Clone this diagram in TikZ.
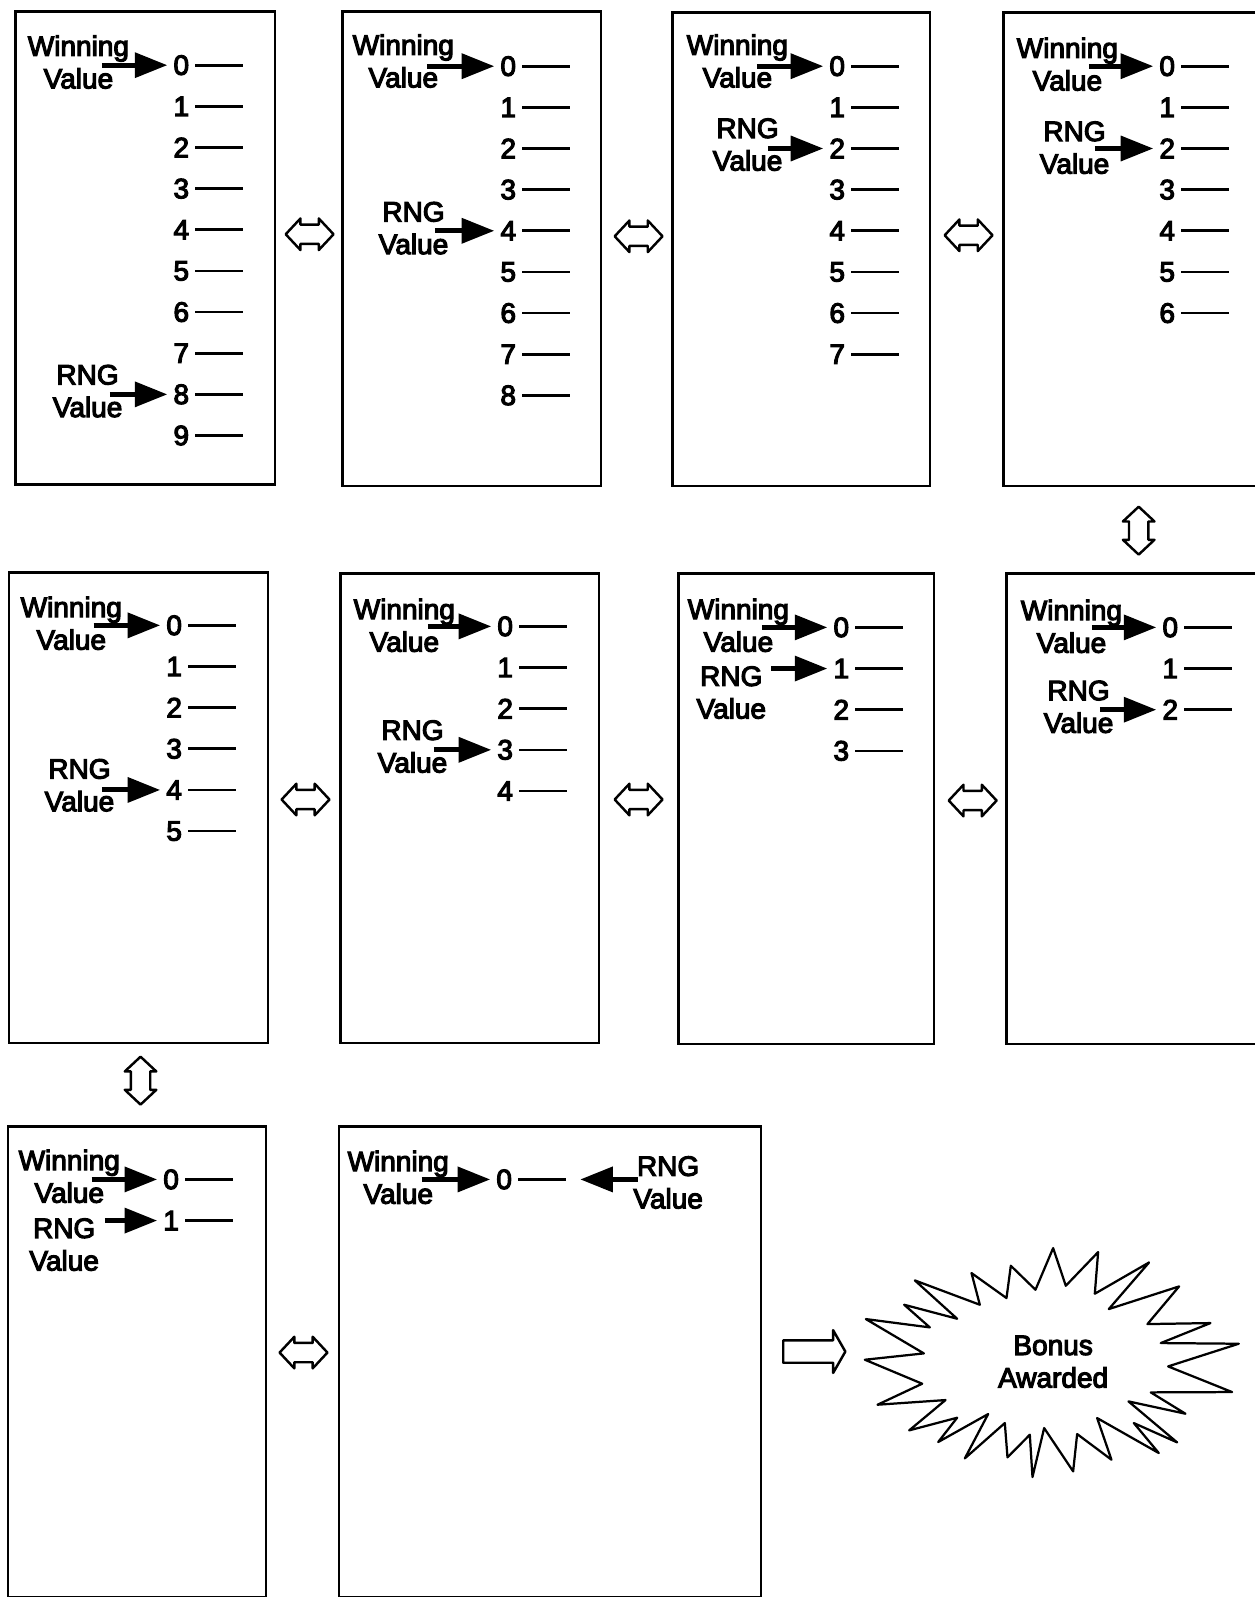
\documentclass[tikz,border=0pt]{standalone}
\usepackage{fontspec}
\setmainfont{Liberation Sans}[FakeBold=4]
\usepackage{tikz}
\usetikzlibrary{arrows.meta}
\usetikzlibrary{positioning}
\tikzset{every picture/.style={line width=0.75pt}}
\tikzset{panelbox/.style={draw, line width=1.3pt, inner sep=0pt}}
\tikzset{digit/.style={inner sep=0pt, outer sep=3pt, font=\fontsize{13.75}{16}\selectfont}}
\tikzset{caption/.style={inner sep=0pt, align=center, font=\fontsize{13.75}{16}\selectfont}}
\tikzset{tick/.style={line width=1.3pt}}
\tikzset{pointer/.style={line width=2.5pt, -{Triangle[length=16pt,width=12pt]}}}
\tikzset{swapsign/.pic={\draw[line width=1.2pt, line join=round] (-23.5,0) -- (-9,-15.5) -- (-9,-9.5) -- (9,-9.5) -- (9,-15.5) -- (23.5,0) -- (9,15.5) -- (9,9.5) -- (-9,9.5) -- (-9,15.5) -- cycle;}}
\tikzset{bonussign/.pic={\draw[line width=1.2pt, line join=round] (-31,-11) -- (18,-11) -- (18,-21) -- (30,0) -- (18,21) -- (18,11) -- (-31,11) -- cycle;}}

\begin{document}
\begin{tikzpicture}[x=0.5pt,y=-0.5pt]
\useasboundingbox (0,0) rectangle (1232,1568);
\foreach \pn/\cx/\cy/\pw/\ph/\nx/\ny/\last in {
  a/142.5/243.5/127.5/232.5/178/64/9,
  b/463/244/127/233/499/65/8,
  c/786.5/244.5/126.5/232.5/822/65/7,
  d/1110/244.5/125/232.5/1146/65/6,
  e/136/793/127/231/171/614/5,
  f/461/793.5/127/230.5/496/615/4,
  g/791.5/794/125.5/231/826/616/3,
  h/1112/794/123.5/231/1149/616/2,
  i/134.5/1337/126.5/231/168/1158/1,
  j/540/1337/207/231/495/1158/0}{
  \node[panelbox, minimum width=\pw pt, minimum height=\ph pt] (\pn) at (\cx,\cy) {};
  \foreach \i in {0,...,\last}{
    \node[digit] (\pn d\i) at (\nx,{\ny+\i*40.4}) {\i};
    \coordinate[right=23.5pt of \pn d\i] (\pn t\i);
    \draw[tick] (\pn d\i) -- (\pn t\i);
  }
}
\foreach \pn/\lx/\ly/\sx in {a/77/61/100,b/396/60/419,c/724/60/743,d/1048/63/1069,e/70/612/92,f/397/614/420,g/725/614/748,h/1052/615/1072,i/68/1155/90,j/391/1156/414}{
  \node[caption] (\pn win) at (\lx,\ly) {Winning\\Value};
  \draw[pointer] (\sx,0 |- \pn d0) -- (\pn d0);
}
\foreach \pn/\lx/\ly/\sx/\target in {a/86/384/108/8,b/406/224/427/4,c/734/142/754/2,d/1055/145/1075/2,e/78/771/100/4,f/405/733/426/3,g/718/680/757/1,h/1059/694/1080/2,i/63/1222/103/1}{
  \node[caption] (\pn rng) at (\lx,\ly) {RNG\\Value};
  \draw[pointer] (\sx,0 |- \pn d\target) -- (\pn d\target);
}
\node[caption] (jrng) at (656,1161) {RNG\\Value};
\coordinate (jrs) at (626,1158);
\draw[pointer, shorten >=7pt] (jrs) -- (jt0);
\pic (ab) at (304,230) {swapsign};
\pic (bc) at (627,232) {swapsign};
\pic (cd) at (951,231) {swapsign};
\pic[rotate=90] (dh) at (1118,521) {swapsign};
\pic (hg) at (955,786) {swapsign};
\pic (gf) at (627,785) {swapsign};
\pic (fe) at (300,785) {swapsign};
\pic[rotate=90] (ei) at (138,1061) {swapsign};
\pic (ij) at (298,1328) {swapsign};
\pic (jstar) at (800,1327) {bonussign};
\begin{scope}[shift={(824.6,1197.6)},x=0.1636pt,y=-0.1636pt]
\draw[line width=1.1pt, line join=round] (640,85) -- (678,198) -- (775,97) -- (765,222) -- (928,128) -- (807,268) -- (1018,200) -- (923,313) -- (1112,310) -- (963,370) -- (1197,372) -- (985,440) -- (1177,517) -- (933,518) -- (1037,582) -- (866,545) -- (1012,668) -- (882,610) -- (957,700) -- (772,595) -- (815,720) -- (712,643) -- (700,755) -- (613,625) -- (578,772) -- (570,645) -- (503,713) -- (495,610) -- (375,716) -- (445,583) -- (295,667) -- (352,594) -- (208,632) -- (317,541) -- (113,555) -- (247,492) -- (75,420) -- (252,401) -- (78,298) -- (270,323) -- (193,255) -- (352,297) -- (225,182) -- (420,255) -- (395,160) -- (500,235) -- (513,138) -- (587,210) -- cycle;
\end{scope}
\node[caption] (bonus) at (1034,1337) {Bonus\\Awarded};
\end{tikzpicture}
\end{document}
